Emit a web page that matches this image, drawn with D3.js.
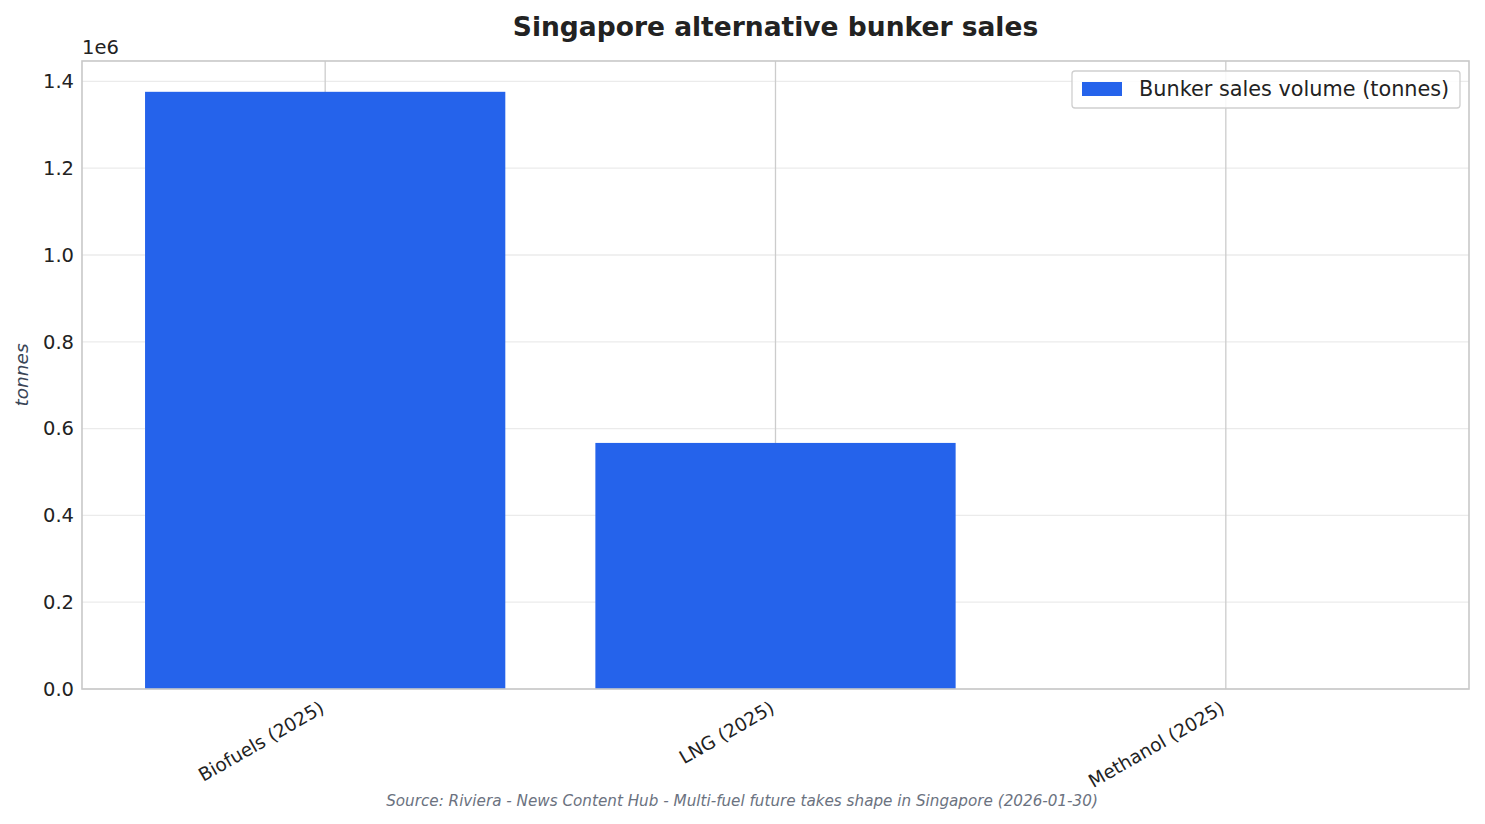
<!DOCTYPE html>
<html>
<head>
<meta charset="utf-8">
<script src="https://cdn.jsdelivr.net/npm/d3@7"></script>
<style>
  body { margin: 0; background: #fff; }
  svg { font-family: "DejaVu Sans", sans-serif; }
</style>
</head>
<body>
<svg id="chart" width="1485" height="824"></svg>
<script>
// data
const categories = ['Biofuels (2025)', 'LNG (2025)', 'Methanol (2025)']
const salesTonnes = [1376000, 567000, 0]
const yTicks = [0, 0.2e6, 0.4e6, 0.6e6, 0.8e6, 1.0e6, 1.2e6, 1.4e6]
const seriesName = 'Bunker sales volume (tonnes)'

const w = 1485
const h = 824
const m = {top: 61, right: 16, bottom: 135, left: 82}

let svg = d3.select('#chart')

let x = d3.scaleBand()
    .domain(categories)
    .range([m.left, w - m.right])
    .paddingInner(0.2)
    .paddingOuter(0.14)

let y = d3.scaleLinear()
    .domain([0, 1.447e6])
    .range([h - m.bottom, m.top])

// horizontal grid
svg.append('g')
    .selectAll('line')
    .data(yTicks)
    .enter()
    .append('line')
    .attr('x1', m.left)
    .attr('x2', w - m.right)
    .attr('y1', d => y(d))
    .attr('y2', d => y(d))
    .attr('stroke', '#ebebeb')
    .attr('stroke-width', 1.3)

// vertical grid at the categories
svg.append('g')
    .selectAll('line')
    .data(categories)
    .enter()
    .append('line')
    .attr('x1', d => x(d) + x.bandwidth() / 2)
    .attr('x2', d => x(d) + x.bandwidth() / 2)
    .attr('y1', m.top)
    .attr('y2', h - m.bottom)
    .attr('stroke', '#cccccc')
    .attr('stroke-width', 1.3)

// bars
svg.append('g')
    .selectAll('rect')
    .data(categories)
    .enter()
    .append('rect')
    .attr('x', d => x(d))
    .attr('width', x.bandwidth())
    .attr('y', (d, i) => y(salesTonnes[i]))
    .attr('height', (d, i) => y(0) - y(salesTonnes[i]))
    .attr('fill', '#2563eb')

// frame
svg.append('rect')
    .attr('x', m.left)
    .attr('y', m.top)
    .attr('width', w - m.right - m.left)
    .attr('height', h - m.bottom - m.top)
    .attr('fill', 'none')
    .attr('stroke', '#c8c8c8')
    .attr('stroke-width', 1.6)

// y axis
let yAxis = svg.append('g')
    .attr('transform', `translate(${m.left},0)`)
    .call(d3.axisLeft(y).tickValues(yTicks).tickSize(0).tickPadding(8)
        .tickFormat(d => (d / 1e6).toFixed(1)))
yAxis.select('.domain').remove()
yAxis.selectAll('text')
    .attr('font-size', 19.5)
    .attr('font-family', '"DejaVu Sans", sans-serif')
    .attr('fill', '#222')

svg.append('text')
    .attr('x', m.left)
    .attr('y', 54)
    .attr('font-size', 19.5)
    .attr('fill', '#222')
    .text('1e6')

// x axis
let xAxis = svg.append('g')
    .attr('transform', `translate(0,${h - m.bottom})`)
    .call(d3.axisBottom(x).tickSize(0).tickPadding(0))
xAxis.select('.domain').remove()
xAxis.selectAll('text')
    .attr('font-size', 18.5)
    .attr('font-family', '"DejaVu Sans", sans-serif')
    .attr('fill', '#222')
    .attr('text-anchor', 'end')
    .attr('y', 0)
    .attr('dy', '0.35em')
    .attr('transform', 'translate(-3,17) rotate(-30)')

// y label
svg.append('text')
    .attr('transform', `translate(28,${(m.top + h - m.bottom) / 2}) rotate(-90)`)
    .attr('text-anchor', 'middle')
    .attr('font-size', 18.5)
    .attr('font-style', 'italic')
    .attr('fill', '#3a4556')
    .text('tonnes')

// title
svg.append('text')
    .attr('x', (m.left + w - m.right) / 2)
    .attr('y', 36)
    .attr('text-anchor', 'middle')
    .attr('font-size', 26.5)
    .attr('font-weight', 'bold')
    .attr('fill', '#222')
    .text('Singapore alternative bunker sales')

// legend
let legend = svg.append('g')
legend.append('rect')
    .attr('x', 1072)
    .attr('y', 71)
    .attr('width', 388)
    .attr('height', 37)
    .attr('rx', 3)
    .attr('fill', 'rgba(255,255,255,0.85)')
    .attr('stroke', '#cfcfcf')
    .attr('stroke-width', 1.3)
legend.append('rect')
    .attr('x', 1082)
    .attr('y', 82)
    .attr('width', 40)
    .attr('height', 14)
    .attr('fill', '#2563eb')
legend.append('text')
    .attr('x', 1139)
    .attr('y', 96)
    .attr('font-size', 20.8)
    .attr('fill', '#222')
    .text(seriesName)

// source note
svg.append('text')
    .attr('x', 742)
    .attr('y', 806)
    .attr('text-anchor', 'middle')
    .attr('font-size', 15.2)
    .attr('font-style', 'italic')
    .attr('fill', '#6b7280')
    .text('Source: Riviera - News Content Hub - Multi-fuel future takes shape in Singapore (2026-01-30)')
</script>
</body>
</html>
